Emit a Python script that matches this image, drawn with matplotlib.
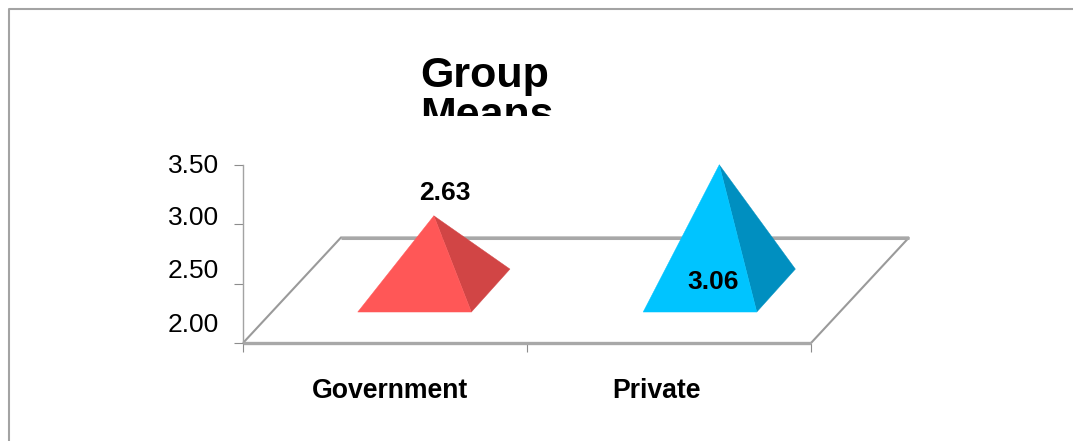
import matplotlib
matplotlib.use("Agg")
import matplotlib.pyplot as plt
from matplotlib.patches import Polygon, Rectangle
from matplotlib.lines import Line2D

plt.rcParams["font.family"] = ["Liberation Sans", "DejaVu Sans"]

categories = ["Government", "Private"]
means = [2.63, 3.06]
front_colors = ["#ff5757", "#00c4ff"]
side_colors = ["#d14545", "#008fc0"]
value_ticks = [2.0, 2.5, 3.0, 3.5]

W, H = 1073, 441
GREY = "#a3a3a3"


def fx(x):
    return x / W


def fy(y):
    return 1 - y / H


fig = plt.figure(figsize=(W / 100, H / 100), dpi=100)
fig.patch.set_facecolor("white")

# outer chart border, only top and left show
fig.add_artist(Line2D([fx(8.5), fx(8.5), 1], [0, fy(9), fy(9)], color=GREY, lw=1.5))

# plot box, value axis runs 2.00 to 3.50 and each category is one unit wide
ax = fig.add_axes([fx(243), fy(343), fx(811) - fx(243), fy(165) - fy(343)])
ax.set_xlim(0, 2)
ax.set_ylim(2, 3.5)
ax.patch.set_visible(False)
for s in ["top", "right", "bottom"]:
    ax.spines[s].set_visible(False)
ax.spines["left"].set_color(GREY)
ax.spines["left"].set_linewidth(1)
ax.set_xticks([0, 1, 2], labels=[])
ax.set_yticks(value_ticks, labels=[])
ax.tick_params(axis="both", direction="out", length=6.5, width=0.8, color="#8c8c8c")

# floor in oblique projection
floor_dx = 0.345
floor_dy = 0.889
floor_x = [0, floor_dx, 2 + floor_dx, 2]
floor_y = [2, 2 + floor_dy, 2 + floor_dy, 2]
ax.plot(floor_x, floor_y, color="#9a9a9a", lw=1.5, clip_on=False, zorder=2,
        solid_joinstyle="miter", solid_capstyle="butt")
ax.plot([0, 2], [2, 2], color="#a8a8a8", lw=2.4, clip_on=False, zorder=2, solid_capstyle="butt")
ax.plot(floor_x[1:3], floor_y[1:3], color="#a8a8a8", lw=2.2, clip_on=False, zorder=2,
        solid_capstyle="butt")

# pyramids: square base sits on the floor, apex height comes from the mean
base_w = 0.4
base_dx = 0.136
base_dy = 0.362
base_y = 2.261
centers = [0.604, 1.609]
for c, v, fc, sc in zip(centers, means, front_colors, side_colors):
    x0 = c - base_w / 2
    x1 = c + base_w / 2
    apex_x = c + base_dx / 2
    apex_y = v + (base_y + base_dy / 2 - 2)
    ax.add_patch(Polygon([(x1, base_y), (x1 + base_dx, base_y + base_dy), (apex_x, apex_y)],
                         closed=True, fc=sc, ec=sc, lw=0.3, clip_on=False, zorder=3))
    ax.add_patch(Polygon([(x0, base_y), (x1, base_y), (apex_x, apex_y)],
                         closed=True, fc=fc, ec=fc, lw=0.3, clip_on=False, zorder=4))

# labels
for lab, y in zip(value_ticks, [325, 271, 218, 166]):
    fig.text(fx(219), fy(y), f"{lab:.2f}", ha="right", va="center", fontsize=19, color="black")
for name, x in zip(categories, [390, 657]):
    fig.text(fx(x), fy(391), name, ha="center", va="center", fontsize=19.2, fontweight="bold")
for v, x, y in zip(means, [444.5, 713], [193, 282]):
    fig.text(fx(x), fy(y), f"{v:.2f}", ha="center", va="center", fontsize=19,
             fontweight="bold", zorder=6)

# title box is too short for two lines, so the second line gets cut off
title = fig.text(fx(420), fy(56), "Group\nMeans", ha="left", va="top", fontsize=31,
                 fontweight="bold", linespacing=1.0)
clip = Rectangle((0, fy(116)), 1, fy(40) - fy(116), transform=fig.transFigure)
title.set_clip_path(clip)

fig.savefig("out.png", dpi=100)
plt.close(fig)
